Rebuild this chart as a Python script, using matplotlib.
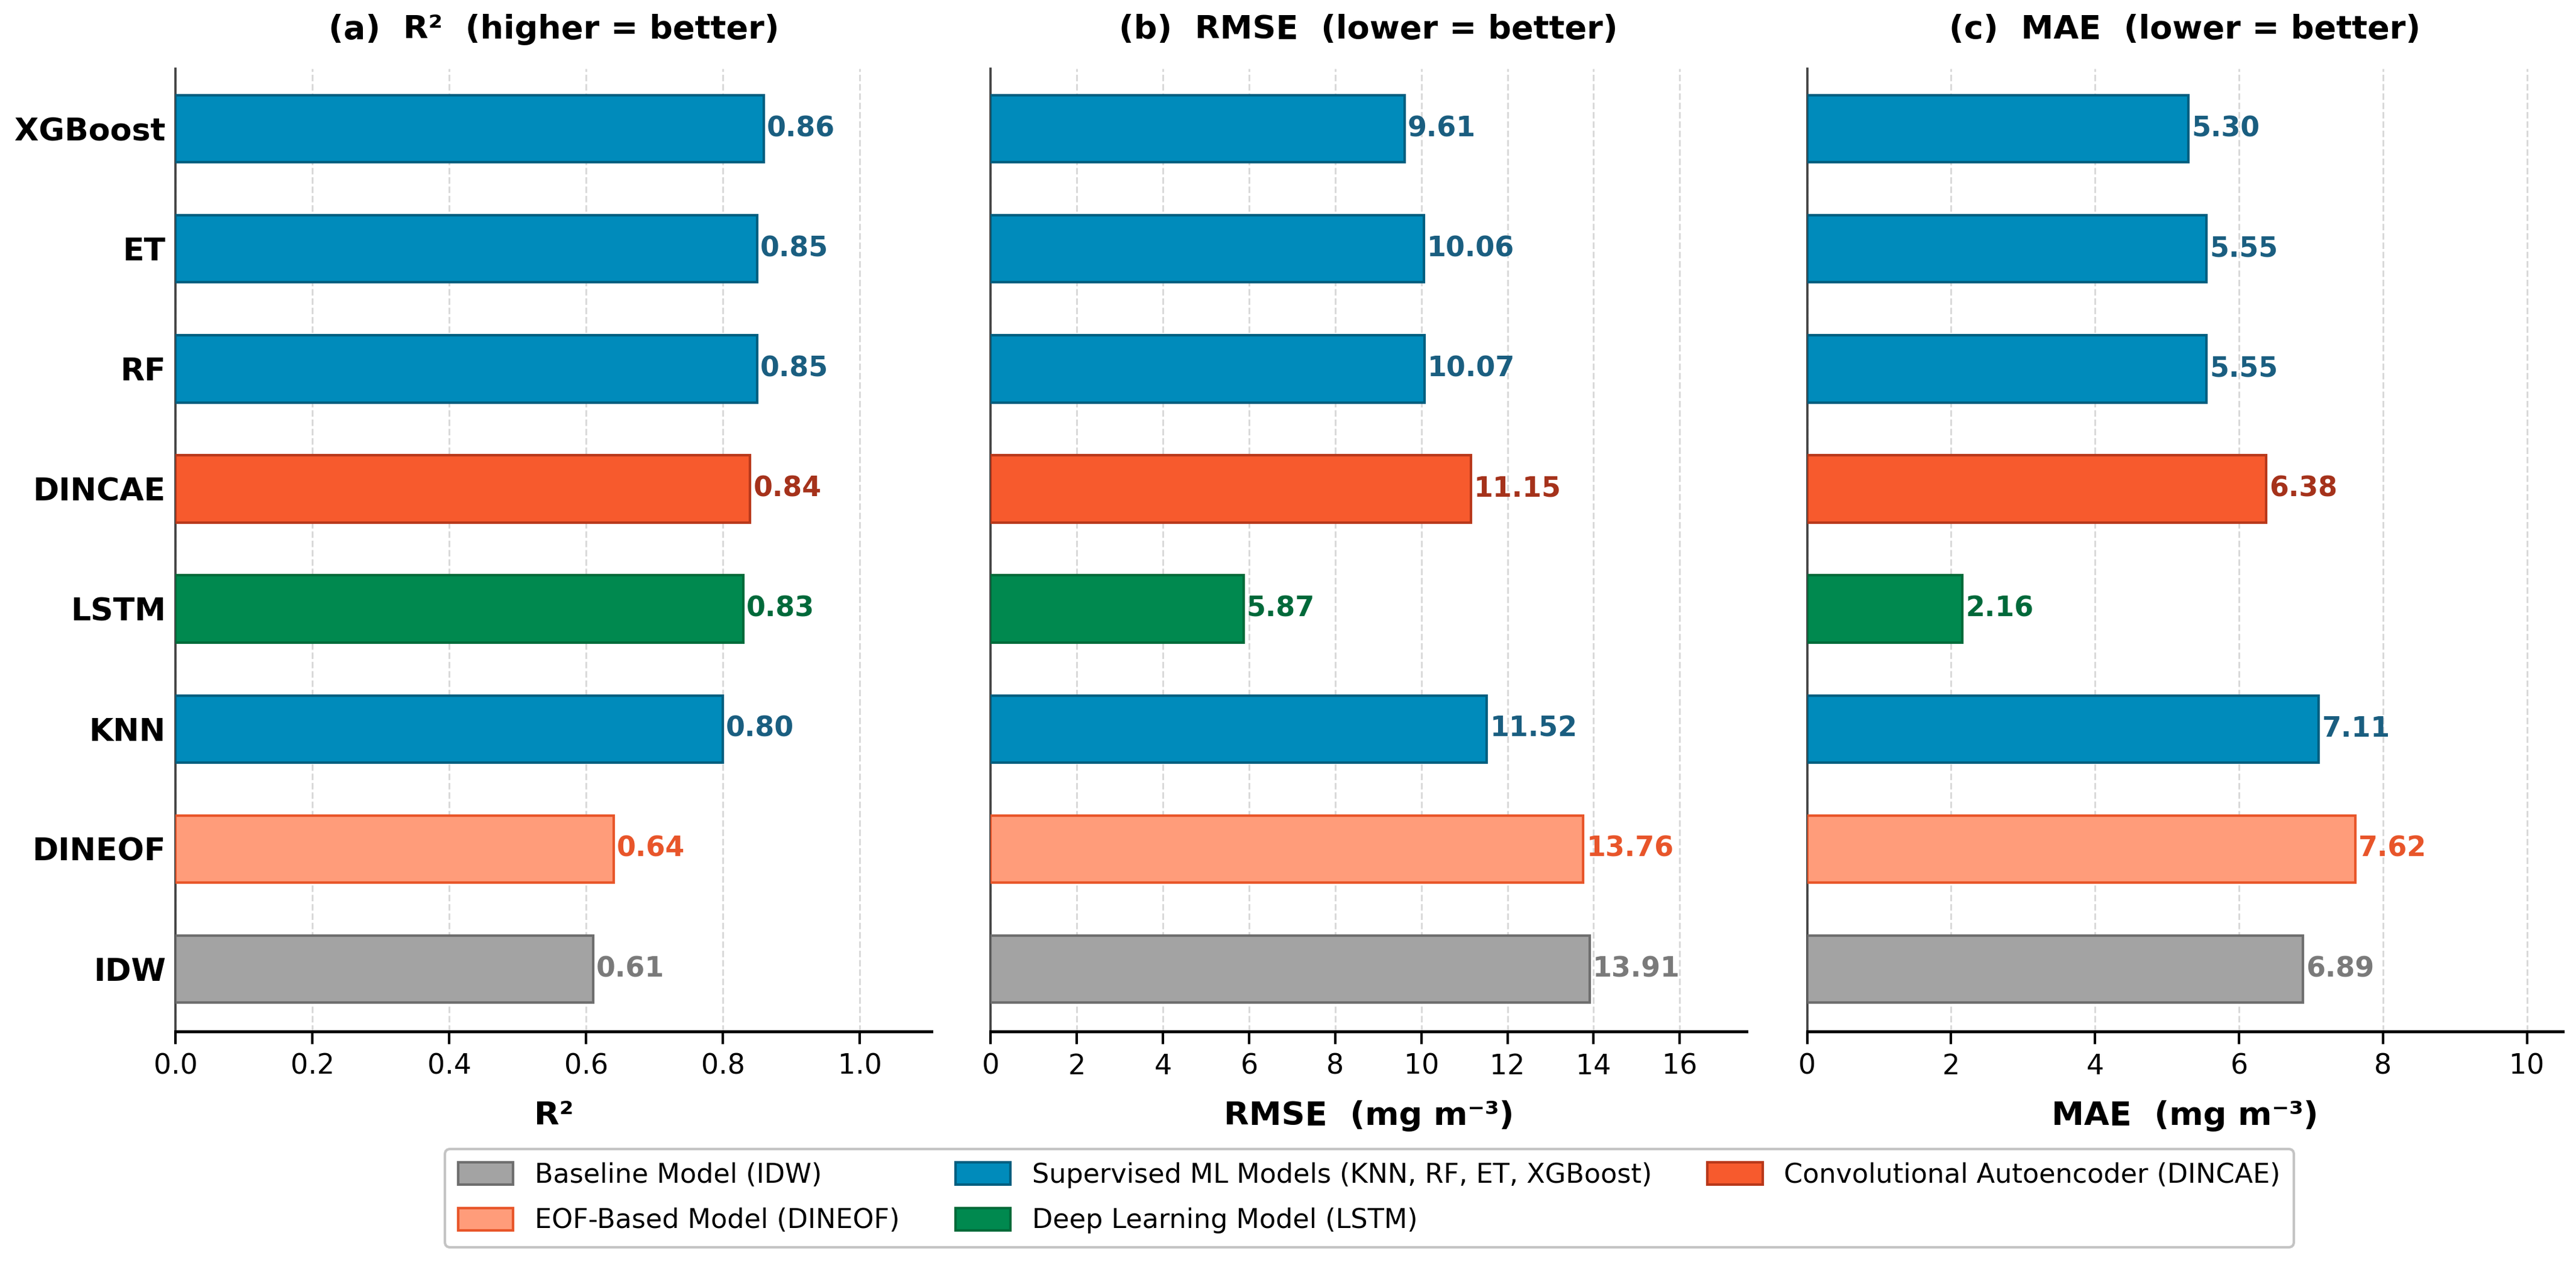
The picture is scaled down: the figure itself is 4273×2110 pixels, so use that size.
import matplotlib
matplotlib.use("Agg")
import matplotlib.pyplot as plt
from matplotlib.patches import Patch

# ── data (top to bottom) ──────────────────────────────────────────
models = ["XGBoost", "ET", "RF", "DINCAE", "LSTM", "KNN", "DINEOF", "IDW"]
groups = ["ml", "ml", "ml", "cae", "dl", "ml", "eof", "base"]
r2   = [0.86, 0.85, 0.85, 0.84, 0.83, 0.80, 0.64, 0.61]
rmse = [9.61, 10.06, 10.07, 11.15, 5.87, 11.52, 13.76, 13.91]
mae  = [5.30, 5.55, 5.55, 6.38, 2.16, 7.11, 7.62, 6.89]

panel_titles = ["(a)  R²  (higher = better)",
                "(b)  RMSE  (lower = better)",
                "(c)  MAE  (lower = better)"]
xlabels = ["R²", "RMSE  (mg m⁻³)", "MAE  (mg m⁻³)"]

legend_order = ["base", "eof", "ml", "dl", "cae"]
legend_labels = {
    "base": "Baseline Model (IDW)",
    "eof":  "EOF-Based Model (DINEOF)",
    "ml":   "Supervised ML Models (KNN, RF, ET, XGBoost)",
    "dl":   "Deep Learning Model (LSTM)",
    "cae":  "Convolutional Autoencoder (DINCAE)",
}

# ── styles ────────────────────────────────────────────────────────
face = {"ml": "#008BBB", "cae": "#F75A2D", "dl": "#00894F",
        "eof": "#FF9C7A", "base": "#A3A3A3"}
edge = {"ml": "#005F80", "cae": "#B8381A", "dl": "#006B3A",
        "eof": "#E8562A", "base": "#6E6E6E"}
txtc = {"ml": "#1A5E80", "cae": "#A5321B", "dl": "#00693A",
        "eof": "#E8552A", "base": "#7A7A7A"}

plt.rcParams["font.family"] = ["DejaVu Sans"]

fig = plt.figure(figsize=(4273 / 300, 2110 / 300), dpi=300)
lefts = [0.0682, 0.3846, 0.7015]
width = 0.2934
bottom, top = 0.189, 0.946
xlims = [1.105, 17.55, 10.5]

ypos = list(range(len(models)))
for i, vals in enumerate([r2, rmse, mae]):
    ax = fig.add_axes([lefts[i], bottom, width, top - bottom])
    ax.barh(ypos, vals, height=0.56,
            color=[face[g] for g in groups],
            edgecolor=[edge[g] for g in groups], linewidth=1.0, zorder=3)
    for y, v, g in zip(ypos, vals, groups):
        ax.text(v + xlims[i] * 0.004, y, f"{v:.2f}", va="center",
                ha="left", fontsize=11, fontweight="bold", color=txtc[g],
                zorder=4)
    ax.set_ylim(len(models) - 0.48, -0.5)
    ax.set_xlim(0, xlims[i])
    if i == 0:
        ax.set_yticks(ypos)
        ax.set_yticklabels(models, fontsize=12.5, fontweight="bold")
    else:
        ax.set_yticks([])
    ax.tick_params(axis="y", length=0, pad=4)
    ax.tick_params(axis="x", labelsize=11, length=5, width=1.0)
    ax.set_title(panel_titles[i], fontsize=13, fontweight="bold", pad=12)
    ax.set_xlabel(xlabels[i], fontsize=13, fontweight="bold", labelpad=8)
    ax.grid(axis="x", linestyle="--", color="#d9d9d9", linewidth=0.7,
            zorder=0)
    ax.spines["top"].set_visible(False)
    ax.spines["right"].set_visible(False)
    ax.spines["left"].set_color("#444444")
    ax.spines["left"].set_linewidth(0.9)
    ax.spines["bottom"].set_linewidth(1.2)

handles = [Patch(facecolor=face[g], edgecolor=edge[g], linewidth=1.0,
                 label=legend_labels[g]) for g in legend_order]
fig.legend(handles=handles, loc="lower center",
           bbox_to_anchor=(0.5316, 0.009),
           ncol=3, fontsize=10.7, frameon=True, fancybox=True,
           edgecolor="#c4c4c4", framealpha=1.0,
           handlelength=2.05, handleheight=0.9, handletextpad=0.8,
           columnspacing=2.07, labelspacing=0.72, borderpad=0.5)

fig.savefig("out.png", dpi=300)
